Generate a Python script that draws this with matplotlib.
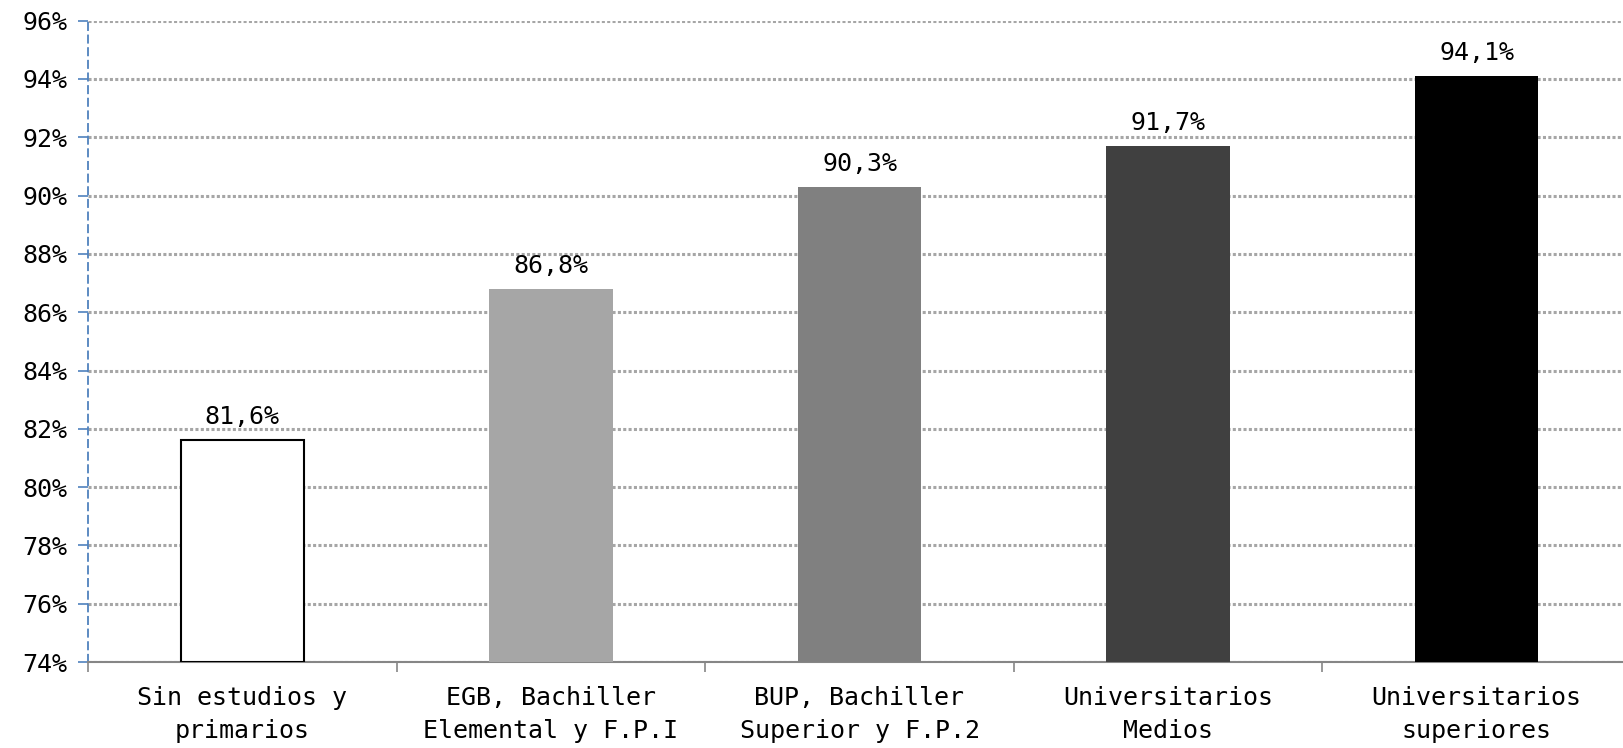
import matplotlib
matplotlib.use("Agg")
import matplotlib.pyplot as plt
import numpy as np

categories = ["Sin estudios y\nprimarios", "EGB, Bachiller\nElemental y F.P.I",
              "BUP, Bachiller\nSuperior y F.P.2", "Universitarios\nMedios",
              "Universitarios\nsuperiores"]
values = [81.6, 86.8, 90.3, 91.7, 94.1]
colors = ["#ffffff", "#a6a6a6", "#808080", "#404040", "#000000"]
yticks = [74, 76, 78, 80, 82, 84, 86, 88, 90, 92, 94, 96]

plt.rcParams['font.family'] = ['DejaVu Sans Mono']
fig = plt.figure(figsize=(16.24, 7.48), dpi=100)
ax = fig.add_axes([88/1624, 86/748, 1543/1624, (662-20.7)/748])

x = np.arange(len(categories))
ax.bar(x, [v - 74 for v in values], bottom=74, width=0.4, color=colors,
       edgecolor=["#000000", "none", "none", "none", "none"], linewidth=1.5, zorder=3)
for xi, v in zip(x, values):
    ax.annotate(f"{v:.1f}%".replace(".", ","), (xi, v), xytext=(0, 8),
                textcoords="offset points", ha="center", va="bottom", fontsize=18)

ax.set_xlim(-0.5, len(categories) - 0.5)
ax.set_ylim(74, 96)
ax.set_yticks(yticks)
ax.set_yticklabels([f"{t}%" for t in yticks], fontsize=18)
ax.yaxis.grid(True, linestyle=(0, (1, 0.75)), color="#a6a6a6", linewidth=2.2, zorder=0)
ax.set_axisbelow(True)

ax.set_xticks(np.arange(len(categories) + 1) - 0.5)
ax.set_xticklabels([])
ax.set_xticks(x, minor=True)
ax.set_xticklabels(categories, minor=True, fontsize=18, linespacing=1.5)
ax.tick_params(axis="x", which="major", direction="out", length=7, color="#868686", width=1.2)
ax.tick_params(axis="x", which="minor", length=0, pad=17)
ax.tick_params(axis="y", direction="out", length=7, color="#4f81bd", width=1.2, pad=8)

for s in ["top", "right"]:
    ax.spines[s].set_visible(False)
ax.spines["bottom"].set_color("#868686")
ax.spines["bottom"].set_linewidth(1.5)
ax.spines["left"].set_color("#4f81bd")
ax.spines["left"].set_linestyle((0, (4, 3)))
ax.spines["left"].set_linewidth(1.3)

fig.savefig("out.png", dpi=100)
